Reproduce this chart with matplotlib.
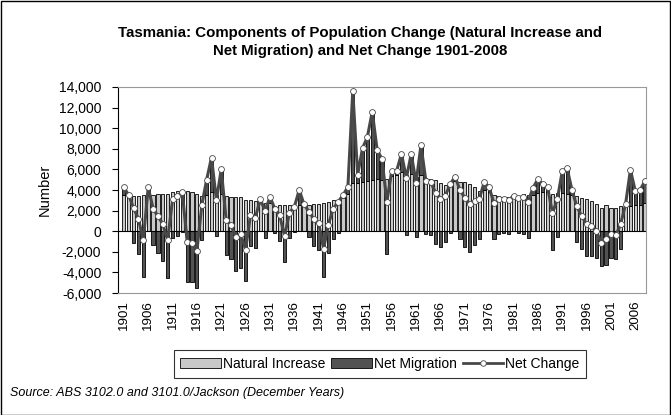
import matplotlib
matplotlib.use("Agg")
import matplotlib.pyplot as plt
from matplotlib.patches import Patch, Rectangle
from matplotlib.lines import Line2D
from matplotlib.ticker import FuncFormatter, MultipleLocator
import numpy as np

plt.rcParams['font.family'] = ['Liberation Sans', 'DejaVu Sans']

years = list(range(1901, 2009))

natural_increase = [
    3500, 3400, 3400, 3400, 3500, 3500, 3500, 3600, 3600, 3600,
    3800, 3900, 3900, 3900, 3800, 3600, 3400, 3500, 3800, 3500,
    3600, 3400, 3300, 3300, 3300, 3000, 3000, 2900, 3000, 2700,
    2700, 2400, 2500, 2500, 2500, 2400, 2500, 2600, 2500, 2600,
    2600, 2700, 2800, 3000, 3000, 3200, 3600, 4700, 4700, 4800,
    4900, 5000, 5100, 5000, 5100, 5400, 5500, 5700, 5500, 5600,
    5300, 5500, 5200, 5100, 5000, 4700, 4500, 4700, 4900, 4800,
    4800, 4600, 4300, 3900, 4000, 3800, 3500, 3400, 3300, 3300,
    3300, 3400, 3600, 3500, 3500, 3700, 3800, 3800, 3600, 3700,
    3700, 3600, 3500, 3400, 3200, 3100, 2900, 2600, 2300, 2500,
    2300, 2300, 2400, 2400, 2400, 2500, 2500, 2700,
]

net_change = [
    4250, 3500, 2250, 1200, -900, 4250, 2200, 1450, 700, -900,
    3100, 3400, 3800, -1000, -1100, -1900, 2500, 5000, 7150, 3000,
    6000, 1100, 600, -600, -300, -1800, 1600, 1300, 3100, 2000,
    3300, 2200, 1550, -500, 1800, 2350, 4000, 2600, 1900, 1200,
    800, -1700, 650, 2200, 2850, 3500, 4300, 13600, 5500, 8050,
    9150, 11600, 7900, 7000, 2850, 5850, 5850, 7500, 5150, 7500,
    4700, 8350, 4900, 4750, 3750, 3150, 3450, 4550, 5300, 4000,
    3250, 2600, 2950, 3150, 4800, 4250, 2700, 3150, 3100, 3000,
    3450, 3250, 3350, 2850, 4200, 5050, 4550, 4250, 1750, 3100,
    5800, 6100, 4000, 2400, 1450, 700, 500, 0, -1100, -750,
    -300, -400, 700, 2600, 5950, 3900, 4000, 4900,
]

net_migration = [
    750, 100, -1150, -2200, -4400, 750, -1300, -2150, -2900, -4500,
    -700, -500, -100, -4900, -4900, -5500, -900, 1500, 3350, -500,
    2400, -2300, -2700, -3900, -3600, -4800, -1400, -1600, 100, -700,
    600, -200, -950, -3000, -700, -50, 1500, 0, -600, -1400,
    -1800, -4400, -2150, -800, -150, 300, 700, 8900, 800, 3250,
    4250, 6600, 2800, 2000, -2250, 450, 350, 1800, -350, 1900,
    -600, 2850, -300, -350, -1250, -1550, -1050, -150, 400, -800,
    -1550, -2000, -1350, -750, 800, 450, -800, -250, -200, -300,
    150, -150, -250, -650, 700, 1350, 750, 450, -1850, -600,
    2100, 2500, 500, -1000, -1750, -2400, -2400, -2600, -3400, -3250,
    -2600, -2700, -1700, 200, 3550, 1400, 1500, 2200,
]

tick_years = list(range(1901, 2007, 5))

fig = plt.figure(figsize=(6.71, 4.15), dpi=100)
ax = fig.add_axes([118/671, 1-293/415, (646-118)/671, (293-87)/415])

x = np.arange(len(years))
ni = np.array(natural_increase)
mig = np.array(net_migration)
mig_bottom = np.where(mig > 0, ni, 0)

light = '#c8c8c8'
dark = '#525252'
ax.bar(x, ni, width=0.65, color=light, edgecolor='black', linewidth=0.6, zorder=2)
ax.bar(x, mig, bottom=mig_bottom, width=0.65, color=dark, edgecolor='black', linewidth=0.6, zorder=2)
ax.plot(x, net_change, color='#484848', linewidth=2.2, marker='o', markersize=4.2,
        markerfacecolor='white', markeredgecolor='#484848', markeredgewidth=0.6, zorder=3)

ax.axhline(0, color='black', linewidth=0.8, zorder=2.5)

ax.set_xlim(-1.2, len(years) - 0.8)
ax.set_ylim(-6000, 14000)
ax.yaxis.set_major_locator(MultipleLocator(2000))
ax.yaxis.set_major_formatter(FuncFormatter(lambda v, p: f"{int(v):,}"))
ax.set_xticks([years.index(y) for y in tick_years])
ax.set_xticklabels([str(y) for y in tick_years], rotation=90, fontsize=9.6)
ax.tick_params(axis='x', length=0, pad=5)
ax.tick_params(axis='y', labelsize=10, length=4, width=0.8, direction='out', pad=8)

for s in ['top', 'right', 'bottom']:
    ax.spines[s].set_color('#999999')
    ax.spines[s].set_linewidth(0.8)
ax.spines['left'].set_color('black')
ax.spines['left'].set_linewidth(0.8)

ax.set_ylabel('Number', fontsize=10.5, labelpad=5)

fig.text(360/671, 1-42/415, 'Tasmania: Components of Population Change (Natural Increase and\nNet Migration) and Net Change 1901-2008',
         ha='center', va='center', fontsize=10.8, fontweight='bold', linespacing=1.3)

handles = [Patch(facecolor=light, edgecolor='black', linewidth=0.6),
           Patch(facecolor=dark, edgecolor='black', linewidth=0.6),
           Line2D([0], [0], color='#484848', linewidth=2, marker='o', markersize=4,
                  markerfacecolor='white', markeredgecolor='#484848', markeredgewidth=0.6)]
leg = fig.legend(handles, ['Natural Increase', 'Net Migration', 'Net Change'],
                 loc='center', bbox_to_anchor=(380/671, 1-364/415), ncol=3,
                 fontsize=10, frameon=True, fancybox=False, edgecolor='black',
                 handlelength=2.9, handletextpad=0.15, columnspacing=0.45,
                 borderpad=0.5, handleheight=0.75)
leg.get_frame().set_linewidth(0.8)

fig.text(10/671, 1-393/415, 'Source: ABS 3102.0 and 3101.0/Jackson (December Years)',
         ha='left', va='center', fontsize=9, style='italic')

fig.patches.append(Rectangle((0.5/671, 0.5/415), 669/671, 413/415, transform=fig.transFigure,
                             fill=False, edgecolor='black', linewidth=1))

fig.savefig('out.png', dpi=100)
